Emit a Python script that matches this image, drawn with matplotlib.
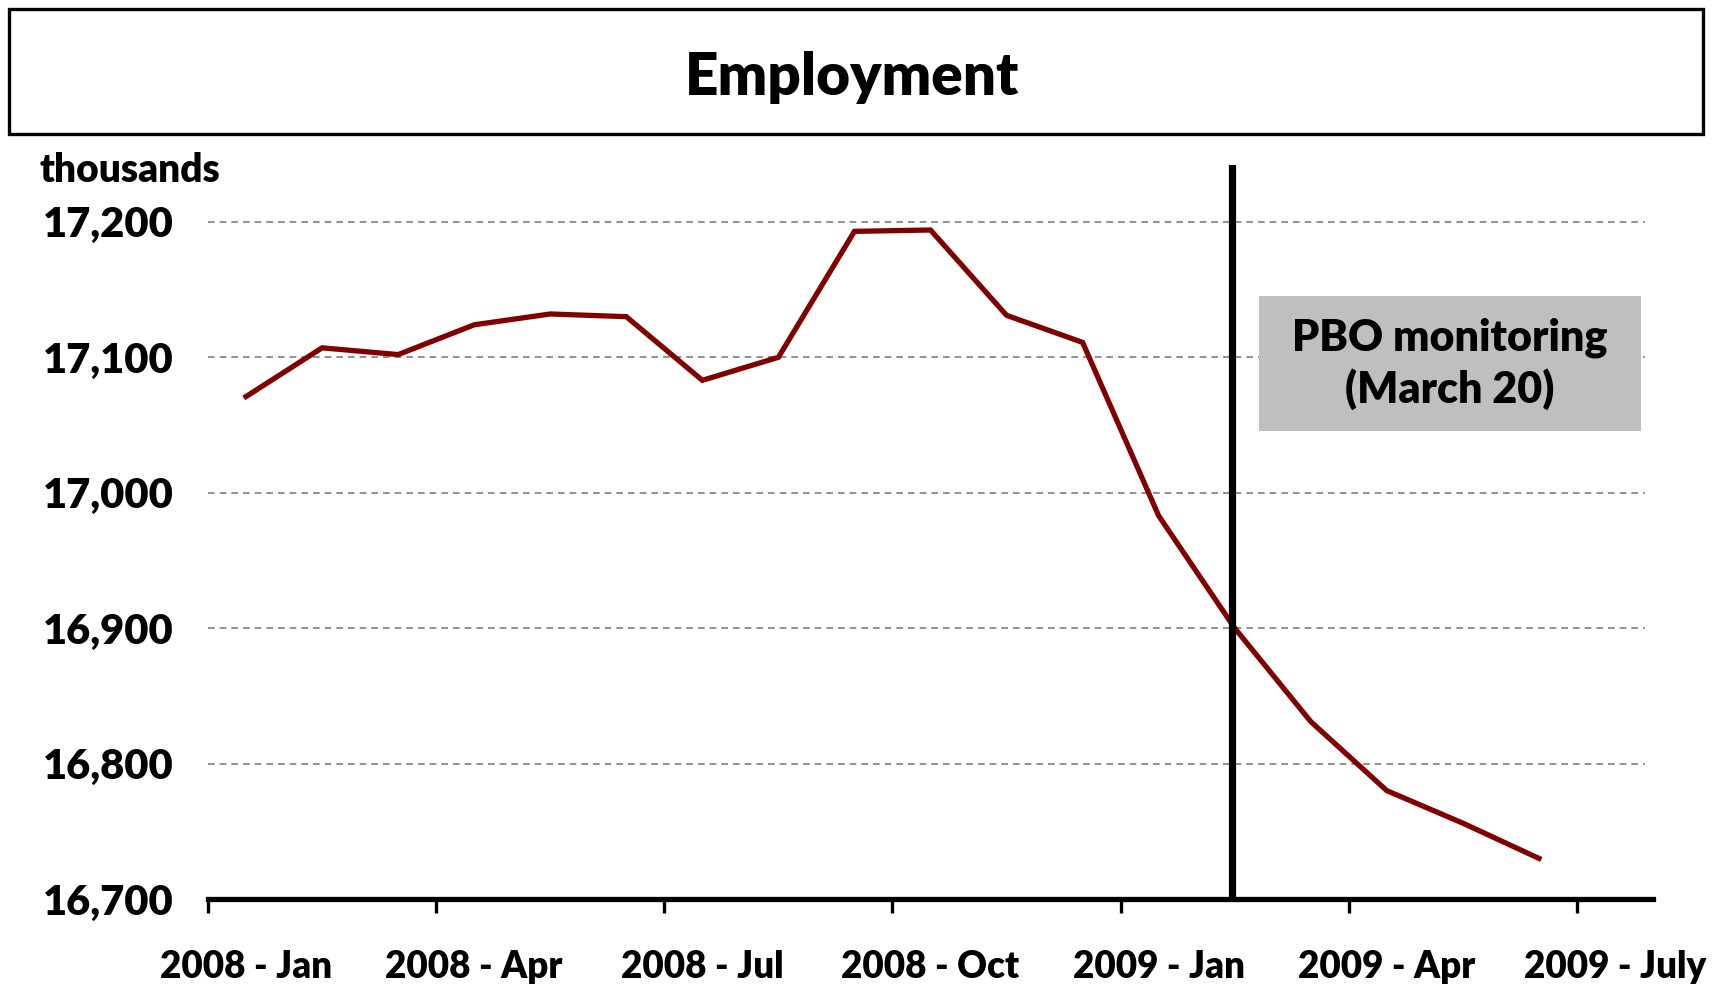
import matplotlib
matplotlib.use("Agg")
import matplotlib.pyplot as plt
from matplotlib.patches import Rectangle

# ---- data ----
months = ["2008 - Jan", "2008 - Feb", "2008 - Mar", "2008 - Apr", "2008 - May", "2008 - Jun",
          "2008 - Jul", "2008 - Aug", "2008 - Sep", "2008 - Oct", "2008 - Nov", "2008 - Dec",
          "2009 - Jan", "2009 - Feb", "2009 - Mar", "2009 - Apr", "2009 - May", "2009 - Jun",
          "2009 - July"]
employment = [17071, 17107, 17102, 17124, 17132, 17130, 17083, 17100, 17193, 17194,
              17131, 17111, 16983, 16900, 16831, 16780, 16756, 16730]
tick_label_idx = [0, 3, 6, 9, 12, 15, 18]
y_ticks = [16700, 16800, 16900, 17000, 17100, 17200]
marker_month = "2009 - Feb"
title = "Employment"
unit_label = "thousands"
box_text = "PBO monitoring\n(March 20)"

plt.rcParams['font.family'] = ['Lato', 'DejaVu Sans']
WT = 'heavy'
plt.rcParams['font.weight'] = WT

W, H = 1722, 984
fig = plt.figure(figsize=(W / 100, H / 100), dpi=100)

# title box
fig.patches.append(Rectangle((9 / W, 1 - 134 / H), (1703 - 9) / W, (134 - 9) / H,
                             transform=fig.transFigure, fill=False, edgecolor='black',
                             linewidth=2.4))
fig.text(852 / W, 1 - 95 / H, title, ha='center', va='baseline', fontsize=42,
         fontweight=WT)
fig.text(39 / W, 1 - 182 / H, unit_label, ha='left', va='baseline', fontsize=28,
         fontweight=WT)

ax = fig.add_axes([208 / W, 1 - 899 / H, (1653 - 208) / W, (899 - 165) / H])
x = list(range(len(employment)))
ax.plot(x, employment, color='#800000', linewidth=3.8, solid_joinstyle='miter',
        zorder=3)

ax.set_xlim(-0.5, len(months) - 0.5)
ax.set_ylim(16700, 17242)

for s in ['top', 'right', 'left']:
    ax.spines[s].set_visible(False)
ax.spines['bottom'].set_linewidth(3.8)
ax.spines['bottom'].set_zorder(5)

# y axis
ax.set_yticks(y_ticks)
ax.set_yticklabels([f"{v:,}" for v in y_ticks], fontsize=30, fontweight=WT)
ax.tick_params(axis='y', length=0, pad=25)
for v in y_ticks[1:]:
    ax.plot([-0.5, len(months) - 0.6], [v, v], color='#7f7f7f', linewidth=1.2,
            linestyle=(0, (4, 3)), zorder=1)

# x axis: tick marks at category boundaries, labels at category centres
ax.set_xticks([i - 0.5 for i in tick_label_idx])
ax.set_xticklabels([])
ax.tick_params(axis='x', which='major', length=10, width=2.4, direction='out')
ax.set_xticks(tick_label_idx, minor=True)
ax.set_xticklabels([months[i] for i in tick_label_idx], minor=True, fontsize=26.5,
                   fontweight=WT)
ax.tick_params(axis='x', which='minor', length=0, pad=37)

# vertical marker line
ax.axvline(months.index(marker_month) - 0.03, color='black', linewidth=5.2, zorder=4)

# PBO monitoring box
bx0, bx1 = 13.32, 18.34
by0, by1 = 17045.5, 17145.2
ax.add_patch(Rectangle((bx0, by0), bx1 - bx0, by1 - by0, facecolor='#bfbfbf',
                       edgecolor='none', zorder=6))
ax.text((bx0 + bx1) / 2, (by0 + by1) / 2, box_text, ha='center', va='center',
        fontsize=31, fontweight=WT, linespacing=1.3, zorder=7)

fig.savefig("out.png", dpi=100, facecolor='white')
